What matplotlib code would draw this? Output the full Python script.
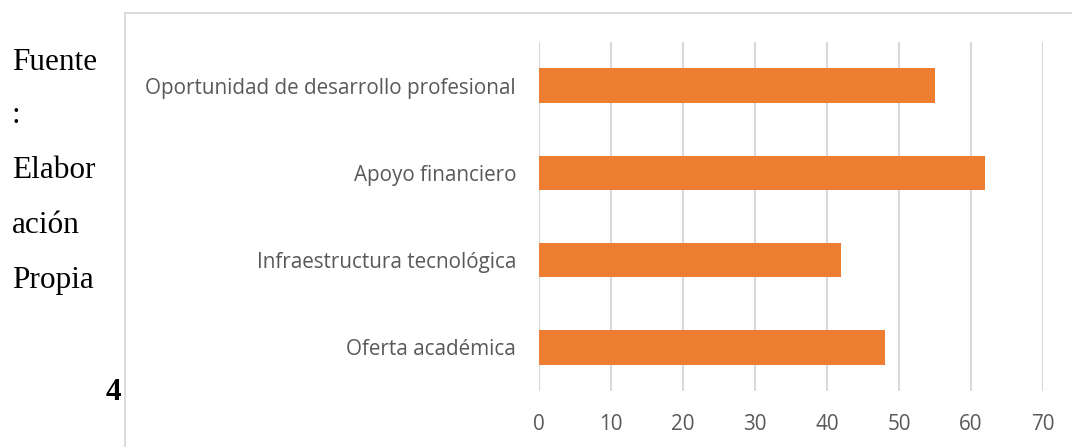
import matplotlib
matplotlib.use('Agg')
import matplotlib.pyplot as plt
from matplotlib.lines import Line2D

# data, listed top to bottom
categories = ["Oportunidad de desarrollo profesional",
              "Apoyo financiero",
              "Infraestructura tecnológica",
              "Oferta académica"]
values = [55, 62, 42, 48]
xticks = [0, 10, 20, 30, 40, 50, 60, 70]

side_lines = ["Fuente", ":", "Elabor", "ación", "Propia"]
page_number = "4"

W, H = 1072, 447
fig = plt.figure(figsize=(W / 100, H / 100), dpi=100)

# axes placed in pixel terms
x0, x1 = 539, 1043
y_top, y_bot = 42.3, 390.7
ax = fig.add_axes([x0 / W, 1 - y_bot / H, (x1 - x0) / W, (y_bot - y_top) / H])

ax.barh(range(len(categories)), values, height=0.4, color="#ED7D31", zorder=3)
ax.set_ylim(len(categories) - 0.5, -0.5)
ax.set_xlim(0, 70)
ax.set_xticks(xticks)
ax.set_yticks(range(len(categories)))
ax.set_yticklabels(categories)
ax.xaxis.grid(True, color="#D9D9D9", linewidth=1.5, zorder=0)
ax.set_axisbelow(True)
for s in ax.spines.values():
    s.set_visible(False)
ax.tick_params(axis="both", length=0, labelsize=14.9, labelcolor="#595959")
ax.tick_params(axis="y", pad=16.5)
ax.tick_params(axis="x", pad=16.5)
for lbl in ax.get_xticklabels() + ax.get_yticklabels():
    lbl.set_fontfamily("Open Sans")

# chart frame (only top and left edges fall in the picture)
frame_c = "#D9D9D9"
fig.add_artist(Line2D([125 / W, 125 / W], [1 - 13 / H, 0], color=frame_c, linewidth=1.3))
fig.add_artist(Line2D([125 / W, 1], [1 - 13 / H, 1 - 13 / H], color=frame_c, linewidth=1.3))

# page text on the left
baselines = [70, 123, 178, 233, 288]
for txt, yb in zip(side_lines, baselines):
    fig.text(12 / W, 1 - yb / H, txt, fontfamily="Liberation Serif", fontsize=22.5,
             va="baseline", ha="left", color="black")
fig.text(121 / W, 1 - 400 / H, page_number, fontfamily="Liberation Serif", fontsize=22.5,
         fontweight="bold", va="baseline", ha="right", color="black")

fig.savefig("out.png", dpi=100)
